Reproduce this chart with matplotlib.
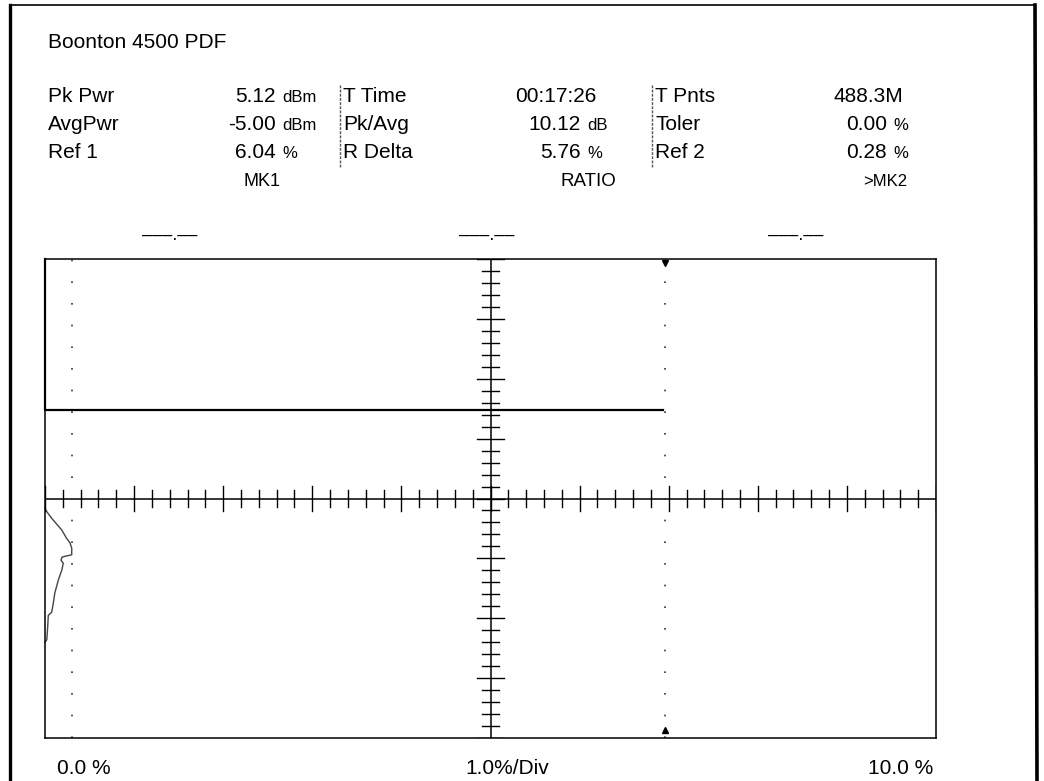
import matplotlib
matplotlib.use("Agg")
import matplotlib.pyplot as plt
import numpy as np

plt.rcParams['font.family'] = ['Liberation Sans', 'DejaVu Sans']

# header readout of the meter
title = "Boonton 4500 PDF"
col_labels = [["Pk Pwr", "AvgPwr", "Ref 1"],
              ["T Time", "Pk/Avg", "R Delta"],
              ["T Pnts", "Toler", "Ref 2"]]
col_values = [["5.12", "-5.00", "6.04"],
              ["00:17:26", "10.12", "5.76"],
              ["488.3M", "0.00", "0.28"]]
col_units = [["dBm", "dBm", "%"],
             ["", "dB", "%"],
             ["", "%", "%"]]
marker_names = ["MK1", "RATIO", ">MK2"]
marker_reads = ["–––.––", "–––.––", "–––.––"]
x_labels = ["0.0 %", "1.0%/Div", "10.0 %"]

# trace (x in %, y in divisions from bottom, 8 div tall)
flat_x = [0.0, 0.0, 6.94]
flat_y = [8.0, 5.48, 5.48]
pdf_x = [0.0, 0.02, 0.075, 0.19, 0.24, 0.28, 0.30, 0.30, 0.24, 0.19, 0.18,
         0.205, 0.19, 0.15, 0.11, 0.093, 0.075, 0.037, 0.03, 0.02, 0.0]
pdf_y = [3.85, 3.78, 3.67, 3.47, 3.34, 3.26, 3.17, 3.06, 3.04, 3.02, 2.97,
         2.92, 2.81, 2.64, 2.42, 2.25, 2.10, 2.05, 1.85, 1.64, 1.60]
cursor_x = [0.30, 6.96]

W, H = 1044, 781
fig = plt.figure(figsize=(W / 100, H / 100), dpi=100)
bg = fig.add_axes([0, 0, 1, 1])
bg.set_xlim(0, W)
bg.set_ylim(H, 0)
bg.axis('off')

# page frame from the scan
bg.plot([10, 10], [5, H], color='black', lw=2.4)
bg.plot([10, 1035], [5, 5], color='black', lw=1.2)
bg.plot([1035, 1037], [5, H], color='black', lw=2.6)

bg.text(48, 42, title, fontsize=15, va='center', ha='left')

row_y = [97, 125, 153]
label_x = [48, 343, 655]
num_right = [276, 581, 887]
sep_x = [340, 652]

for c in range(3):
    for r in range(3):
        bg.text(label_x[c], row_y[r], col_labels[c][r], fontsize=15, va='center', ha='left')
        unit = col_units[c][r]
        if unit:
            bg.text(num_right[c], row_y[r], col_values[c][r], fontsize=15, va='center', ha='right')
            bg.text(num_right[c] + 6, row_y[r] + 1, unit, fontsize=12, va='center', ha='left')
        else:
            bg.text(num_right[c] + 16, row_y[r], col_values[c][r], fontsize=15, va='center', ha='right')
for sx in sep_x:
    bg.plot([sx, sx], [85, 167], color='#555555', lw=1, ls=(0, (2, 1)))

bg.text(262, 182, marker_names[0], fontsize=13, va='center', ha='center')
bg.text(588, 182, marker_names[1], fontsize=13.5, va='center', ha='center')
bg.text(907, 182, marker_names[2], fontsize=12, va='center', ha='right')
for mx, s in zip([170, 487, 796], marker_reads):
    bg.text(mx, 235, s, fontsize=13, va='center', ha='center')

bg.text(57, 768, x_labels[0], fontsize=15, va='center', ha='left')
bg.text(507, 768, x_labels[1], fontsize=15, va='center', ha='center')
bg.text(933, 768, x_labels[2], fontsize=15, va='center', ha='right')

# graticule area
ax = fig.add_axes([45 / W, (H - 738) / H, 891 / W, 479 / H])
ax.set_xlim(0, 10)
ax.set_ylim(0, 8)
ax.set_xticks([])
ax.set_yticks([])
for s in ax.spines.values():
    s.set_color('black')
    s.set_linewidth(1.1)

ax.axhline(4, color='black', lw=1.1)
ax.axvline(5, color='black', lw=1.1)
xt = np.arange(0, 10.001, 0.2)
for x in xt:
    major = abs(x - round(x)) < 1e-6
    h = 0.217 if major else 0.134
    ax.plot([x, x], [4 - h, 4 + h], color='black', lw=1.0)
yt = np.arange(0, 8.001, 0.2)
for y in yt:
    major = abs(y - round(y)) < 1e-6
    h = 0.146 if major else 0.09
    ax.plot([5 - h, 5 + h], [y, y], color='black', lw=1.0)

for cx in cursor_x:
    ax.plot([cx, cx], [0, 8], color='#333333', lw=1.2, ls=(0, (1, 12)))
ax.plot([cursor_x[1]], [7.93], marker='v', color='black', markersize=4)
ax.plot([cursor_x[1]], [0.13], marker='^', color='black', markersize=4)

ax.plot(flat_x, flat_y, color='black', lw=1.6, clip_on=False)
ax.plot(pdf_x, pdf_y, color='#444444', lw=1.0, clip_on=False)

fig.savefig("out.png", dpi=100)
